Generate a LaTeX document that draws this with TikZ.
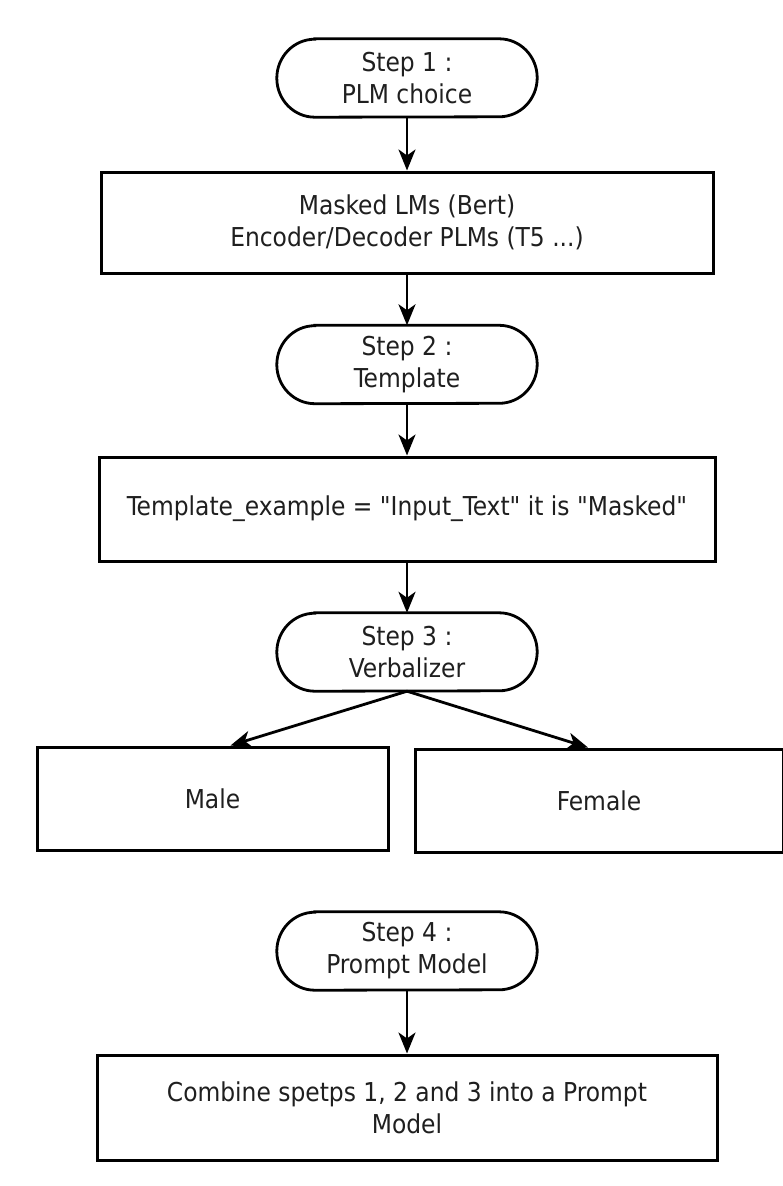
\documentclass[tikz,border=0pt]{standalone}
\usepackage{fontspec}
\setmainfont{DejaVu Sans Condensed}
\usetikzlibrary{arrows.meta}

% straight double quote, set as a glyph so no ligature mapping turns it curly
\newcommand\dq{\XeTeXglyph\the\XeTeXcharglyph"22\relax}

% outline of a terminator: flat top and bottom, elliptic ends
\newcommand\termoutline[1]{%
  \draw[termline] ([xshift=38pt]#1.north west) -- ([xshift=-38pt]#1.north east)
    arc[start angle=90, end angle=-90, x radius=38pt, y radius=39pt]
    -- ([xshift=38pt]#1.south west)
    arc[start angle=270, end angle=90, x radius=38pt, y radius=39pt] -- cycle;}

\begin{document}
\begin{tikzpicture}[x=1pt, y=-1pt,
  every node/.style={font=\fontsize{26}{32}\selectfont, text=black!88, align=center},
  stepbox/.style={draw, line width=3pt, inner sep=0pt},
  term/.style={inner sep=0pt, minimum width=260pt, minimum height=78pt},
  termline/.style={line width=2.8pt},
  conn/.style={line width=2.8pt, -{Stealth[length=21pt, width=17pt, inset=6pt]}}
]
\useasboundingbox (0,0) rectangle (782,1186);
\fill[white] (0,0) rectangle (782,1186);

% step 1
\node[term] (s1) at (407,78) {Step 1 :\\PLM choice};
\termoutline{s1}
\node[stepbox, minimum width=612pt, minimum height=101pt] (b1) at (407,222.5)
  {Masked LMs (Bert)\\Encoder/Decoder PLMs (T5 ...)};

% step 2
\node[term] (s2) at (407,364.5) {Step 2 :\\Template};
\termoutline{s2}
\node[stepbox, minimum width=616pt, minimum height=104pt] (b2) at (407,509)
  {Template\_example = \dq Input\_Text\dq{} it is \dq Masked\dq};

% step 3
\node[term] (s3) at (407,652) {Step 3 :\\Verbalizer};
\termoutline{s3}
\node[stepbox, minimum width=351pt, minimum height=103pt] (male) at (212.5,798.5) {Male};
\node[stepbox, minimum width=368pt, minimum height=103pt] (female) at (599,800.5) {Female};

% step 4
\node[term] (s4) at (407,951) {Step 4 :\\Prompt Model};
\termoutline{s4}
\node[stepbox, minimum width=620pt, minimum height=105pt] (b4) at (407,1107.5)
  {Combine spetps 1, 2 and 3 into a Prompt\\Model};

% connectors
\draw[conn] (s1.south) -- (b1.north);
\draw[conn] (b1.south) -- (s2.north);
\draw[conn] (s2.south) -- (b2.north);
\draw[conn] (b2.south) -- (s3.north);
\draw[conn] (s3.south) -- ([xshift=18pt]male.north);
\draw[conn] (s3.south) -- ([xshift=-11pt]female.north);
\draw[conn] (s4.south) -- (b4.north);
\end{tikzpicture}
\end{document}
